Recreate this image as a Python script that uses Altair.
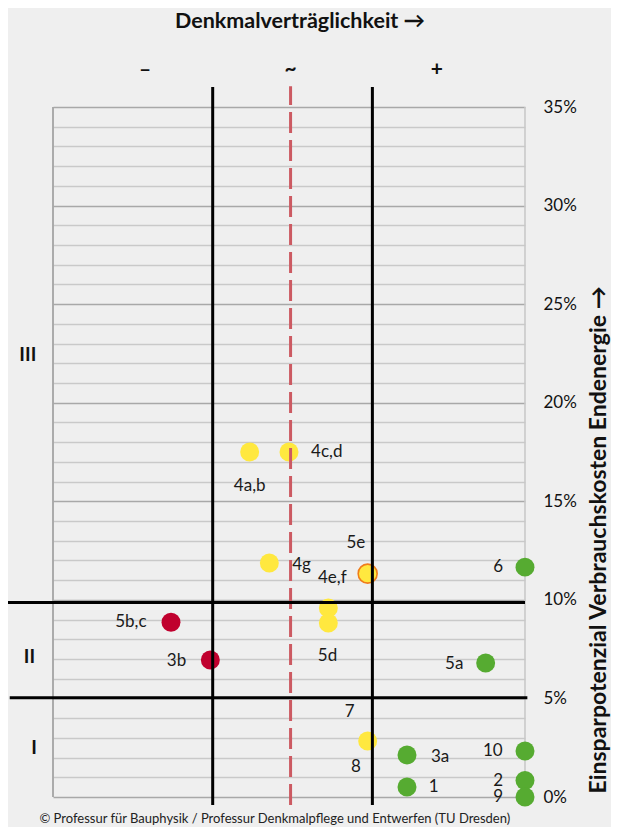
import altair as alt
import pandas as pd

FONT = "Lato"

# ---- data -------------------------------------------------------------
pt_x = [2.5, 3.0, 2.75, 4.0, 6.0, 3.5, 3.5, 1.5, 2.0, 5.5, 4.0, 4.5, 6.0, 4.5, 6.0, 6.0]
pt_y = [17.5, 17.5, 11.87, 11.33, 11.66, 9.59, 8.83, 8.86, 6.95, 6.8, 2.84, 2.13, 2.33, 0.51, 0.84, 0.0]
pt_farbe = ["gelb", "gelb", "gelb", "gelb", "grün", "gelb", "gelb", "rot", "rot", "grün",
            "gelb", "grün", "grün", "grün", "grün", "grün"]
pt_rand = ["nein", "nein", "nein", "ja", "nein", "nein", "nein", "nein", "nein", "nein",
           "nein", "nein", "nein", "nein", "nein", "nein"]

lab_text = ["4a,b", "4c,d", "5e", "4g", "4e,f", "6", "5b,c", "3b", "5d", "5a",
            "7", "8", "3a", "10", "1", "2", "9"]
lab_x = [2.5, 3.48, 3.85, 3.16, 3.55, 5.66, 0.99, 1.57, 3.49, 5.1,
         3.77, 3.85, 4.92, 5.59, 4.84, 5.66, 5.66]
lab_y = [15.78, 17.5, 12.88, 11.77, 11.11, 11.67, 8.88, 6.9, 7.15, 6.75,
         4.31, 1.52, 2.03, 2.33, 0.51, 0.81, 0.0]

zonen_text = ["III", "II", "I"]
zonen_x = [-0.32, -0.30, -0.24]
zonen_y = [22.4, 7.1, 2.49]

kopf_text = ["–", "~", "+"]
kopf_x = [1.17, 3.02, 4.88]
kopf_y = [36.88, 36.88, 36.88]

v_linien_x = [2.03, 4.06]
v_gestrichelt_x = [3.02]
h_linien_y = [9.86, 5.03]
h_linien_x1 = [-0.61, -0.55]
h_linien_x2 = [6.0, 6.03]

y_ticks = list(range(0, 36))

titel_x = "Denkmalverträglichkeit \u2192"
titel_y = "Einsparpotenzial Verbrauchskosten Endenergie \u2192"
fusszeile = "© Professur für Bauphysik / Professur Denkmalpflege und Entwerfen (TU Dresden)"

# ---- tables -----------------------------------------------------------
pts = pd.DataFrame({"x": pt_x, "y": pt_y, "farbe": pt_farbe, "rand": pt_rand})
labs = pd.DataFrame({"x": lab_x, "y": lab_y, "t": lab_text})
zonen = pd.DataFrame({"x": zonen_x, "y": zonen_y, "t": zonen_text})
kopf = pd.DataFrame({"x": kopf_x, "y": kopf_y, "t": kopf_text})
vl = pd.DataFrame({"x": v_linien_x, "y": [-0.41] * len(v_linien_x), "y2": [36.02] * len(v_linien_x)})
vd = pd.DataFrame({"x": v_gestrichelt_x, "y": [-0.41], "y2": [36.05]})
hl = pd.DataFrame({"x": h_linien_x1, "x2": h_linien_x2, "y": h_linien_y})
border_l = pd.DataFrame({"x": [0.0], "y": [0.0], "y2": [35.0]})
border_r = pd.DataFrame({"x": [6.0], "y": [0.0], "y2": [35.0]})

xs = alt.Scale(domain=[0, 6], nice=False, zero=False)
ys = alt.Scale(domain=[0, 35], nice=False, zero=False)

y_axis = alt.Axis(
    orient="right", values=y_ticks, title=None, domain=False, ticks=False,
    labelExpr="datum.value % 5 === 0 ? datum.value + '%' : ''",
    labelFont=FONT, labelFontSize=17, labelColor="#111111", labelPadding=18,
    grid=True,
    gridColor={"condition": {"test": "datum.value % 5 === 0", "value": "#a8a8a8"},
               "value": "#c9c9c9"},
    gridWidth=1.6,
)

X = lambda f="x": alt.X(f"{f}:Q", scale=xs, axis=None)
Y = lambda f="y": alt.Y(f"{f}:Q", scale=ys, axis=y_axis)

left_border = alt.Chart(border_l).mark_rule(strokeWidth=1.8, color="#a3a3a3").encode(
    x=X(), y=Y(), y2="y2:Q")
right_border = alt.Chart(border_r).mark_rule(strokeWidth=1.6, color="#c9c9c9").encode(
    x=X(), y=Y(), y2="y2:Q")

points = alt.Chart(pts).mark_circle(opacity=1, size=360).encode(
    x=X(), y=Y(),
    color=alt.Color("farbe:N", scale=alt.Scale(domain=["gelb", "rot", "grün"],
                                               range=["#ffe83f", "#c0002e", "#56ab31"]),
                    legend=None),
    stroke=alt.Stroke("rand:N", scale=alt.Scale(domain=["nein", "ja"],
                                                range=["transparent", "#f07d1a"]),
                      legend=None),
    strokeWidth=alt.value(1.6),
)

vlines = alt.Chart(vl).mark_rule(color="#000000", strokeWidth=3).encode(
    x=X(), y=Y(), y2="y2:Q")
vdash = alt.Chart(vd).mark_rule(color="#cc5a62", strokeWidth=3, strokeDash=[21, 7]).encode(
    x=X(), y=Y(), y2="y2:Q")
hlines = alt.Chart(hl).mark_rule(color="#000000", strokeWidth=3).encode(
    x=X(), x2="x2:Q", y=Y())

labels = alt.Chart(labs).mark_text(font=FONT, fontSize=17, color="#1a1a1a",
                                   align="center", baseline="middle").encode(
    x=X(), y=Y(), text="t:N")
zone_labels = alt.Chart(zonen).mark_text(font=FONT, fontSize=19, fontWeight="bold",
                                         color="#111111", align="center",
                                         baseline="middle").encode(
    x=X(), y=Y(), text="t:N")
head_labels = alt.Chart(kopf).mark_text(font=FONT, fontSize=21, fontWeight="bold",
                                        color="#111111", align="center",
                                        baseline="middle").encode(
    x=X(), y=Y(), text="t:N")

title_top = alt.Chart(pd.DataFrame({"x": [3.14], "y": [39.31], "t": [titel_x]})).mark_text(
    font=FONT, fontSize=21.5, fontWeight="bold", color="#111111", align="center",
    baseline="middle").encode(x=X(), y=Y(), text="t:N")
title_right = alt.Chart(pd.DataFrame({"x": [6.935], "y": [13.04], "t": [titel_y]})).mark_text(
    font=FONT, fontSize=23, fontWeight="bold", color="#111111", align="center",
    baseline="middle", angle=270).encode(x=X(), y=Y(), text="t:N")
footer = alt.Chart(pd.DataFrame({"x": [2.82], "y": [-1.1], "t": [fusszeile]})).mark_text(
    font=FONT, fontSize=13, color="#222222", align="center",
    baseline="middle").encode(x=X(), y=Y(), text="t:N")

chart = alt.layer(
    left_border, right_border, points, vlines, vdash, hlines, labels, zone_labels,
    head_labels, title_top, title_right, footer,
).properties(
    width=472, height=690,
    autosize=alt.AutoSizeParams(type="none"),
    padding={"left": 45, "top": 99, "right": 86, "bottom": 30},
    background="#efefef",
).configure_view(stroke=None)

chart.save("out.html", embed_options={"renderer": "svg", "actions": False})
